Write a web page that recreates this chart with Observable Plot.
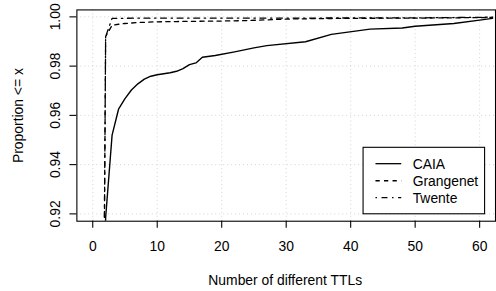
<!DOCTYPE html>
<html>
<head>
<meta charset="utf-8">
<script src="https://cdn.jsdelivr.net/npm/d3@7"></script>
<script src="https://cdn.jsdelivr.net/npm/@observablehq/plot@0.6"></script>
<style>
  html, body { margin: 0; padding: 0; background: #fff; overflow: hidden; width: 496px; height: 291px; }
  svg { display: block; }
</style>
</head>
<body>
<div id="chart"></div>
<script>
// ---- data ----
const seriesNames = ["CAIA", "Grangenet", "Twente"];
const caiaX = [1, 2, 3, 4, 5, 6, 7, 8, 9, 10, 11, 12, 13, 14, 15, 16, 17, 19, 22, 25, 27, 33, 37, 43, 48, 50, 56, 60, 62];
const caiaY = [0.60, 0.9185, 0.9520, 0.9625, 0.9668, 0.9703, 0.9728, 0.9747, 0.9759, 0.9765, 0.9769, 0.9773, 0.9779, 0.9790, 0.9806, 0.9813, 0.9836, 0.9843, 0.9858, 0.9874, 0.9883, 0.9899, 0.9929, 0.9950, 0.9955, 0.9962, 0.9973, 0.9987, 0.9994];
const grangenetX = [1, 2, 3, 4, 5, 6, 7, 8, 10, 13, 16, 20, 24, 27, 30, 35, 40, 50, 55, 60, 62];
const grangenetY = [0.60, 0.9920, 0.9966, 0.9970, 0.9973, 0.9975, 0.9977, 0.9978, 0.9980, 0.9981, 0.9982, 0.9983, 0.9985, 0.9988, 0.9991, 0.9993, 0.9994, 0.9995, 0.9996, 0.9997, 0.9998];
const twenteX = [1, 2, 3, 10, 30, 50, 60, 62];
const twenteY = [0.60, 0.9920, 0.9994, 0.9995, 0.9995, 0.9996, 0.9998, 0.9999];
const xTicks = [0, 10, 20, 30, 40, 50, 60];
const yTicks = [0.92, 0.94, 0.96, 0.98, 1.00];
const xLabel = "Number of different TTLs";
const yLabel = "Proportion <= x";

const toRows = (xs, ys, name) => xs.map((x, i) => ({x, y: ys[i], name}));
const caia = toRows(caiaX, caiaY, seriesNames[0]);
const grangenet = toRows(grangenetX, grangenetY, seriesNames[1]);
const twente = toRows(twenteX, twenteY, seriesNames[2]);

const FONT = "Liberation Sans, Arial, Helvetica, sans-serif";
const FS = 14;
const dashStyles = {CAIA: null, Grangenet: "4.3,4.3", Twente: "1.5,4.6,6,4.6"};

const chart = Plot.plot({
  width: 500,
  height: 291,
  marginLeft: 77,
  marginRight: 1,
  marginTop: 9.5,
  marginBottom: 68.5,
  style: {fontFamily: FONT, fontSize: FS + "px", background: "#fff", color: "#000"},
  x: {domain: [-2.46, 62.46], label: null},
  y: {domain: [0.91702, 1.00282], label: null},
  marks: [
    Plot.gridX(xTicks, {stroke: "#d3d3d3", strokeOpacity: 1, strokeDasharray: "1,3", strokeWidth: 1}),
    Plot.gridY(yTicks, {stroke: "#d3d3d3", strokeOpacity: 1, strokeDasharray: "1,3", strokeWidth: 1}),
    Plot.line(twente, {x: "x", y: "y", stroke: "#000", strokeWidth: 1.3, strokeDasharray: dashStyles.Twente, clip: true}),
    Plot.line(grangenet, {x: "x", y: "y", stroke: "#000", strokeWidth: 1.3, strokeDasharray: dashStyles.Grangenet, clip: true}),
    Plot.line(caia, {x: "x", y: "y", stroke: "#000", strokeWidth: 1.4, clip: true}),
    Plot.frame({stroke: "#000", strokeWidth: 1.1}),
    Plot.axisX({ticks: xTicks, tickSize: 7, tickFormat: () => "", label: null, stroke: "#000", strokeWidth: 1.1}),
    Plot.axisY({ticks: yTicks, tickSize: 7, tickFormat: () => "", label: null, stroke: "#000", strokeWidth: 1.1}),
    Plot.text(xTicks, {x: d => d, frameAnchor: "bottom", dy: 25.8, lineAnchor: "middle", text: d => String(d), fontSize: FS, fill: "#000"}),
    Plot.text(yTicks, {y: d => d, frameAnchor: "left", dx: -22, rotate: -90, textAnchor: "middle", lineAnchor: "middle", text: d => d.toFixed(2), fontSize: FS, fill: "#000"}),
    Plot.text([xLabel], {frameAnchor: "bottom", dy: 59.8, lineAnchor: "middle", text: d => d, fontSize: FS, fill: "#000", dx: -1}),
    Plot.text([yLabel], {frameAnchor: "left", dx: -58.5, rotate: -90, lineAnchor: "middle", textAnchor: "middle", text: d => d, fontSize: FS, fill: "#000"})
  ]
});

// legend (inside plot area, bottom-right) drawn into the same SVG
const svg = d3.select(chart);
const lg = svg.append("g").attr("font-family", FONT).attr("font-size", FS).attr("text-anchor", "start");
lg.append("rect").attr("x", 366).attr("y", 148.5).attr("width", 122.5).attr("height", 67)
  .attr("fill", "#fff").attr("stroke", "#000").attr("stroke-width", 1.1);
const rowY = [165, 182.2, 199.3];
seriesNames.forEach((name, i) => {
  const l = lg.append("line").attr("x1", 378.5).attr("x2", 404.5).attr("y1", rowY[i]).attr("y2", rowY[i])
    .attr("stroke", "#000").attr("stroke-width", 1.3);
  if (dashStyles[name]) l.attr("stroke-dasharray", dashStyles[name]);
  lg.append("text").attr("x", 416).attr("y", rowY[i] + 5).attr("fill", "#000")
    .attr("text-anchor", "start").style("text-anchor", "start").text(name);
});

document.getElementById("chart").appendChild(chart);
</script>
</body>
</html>
